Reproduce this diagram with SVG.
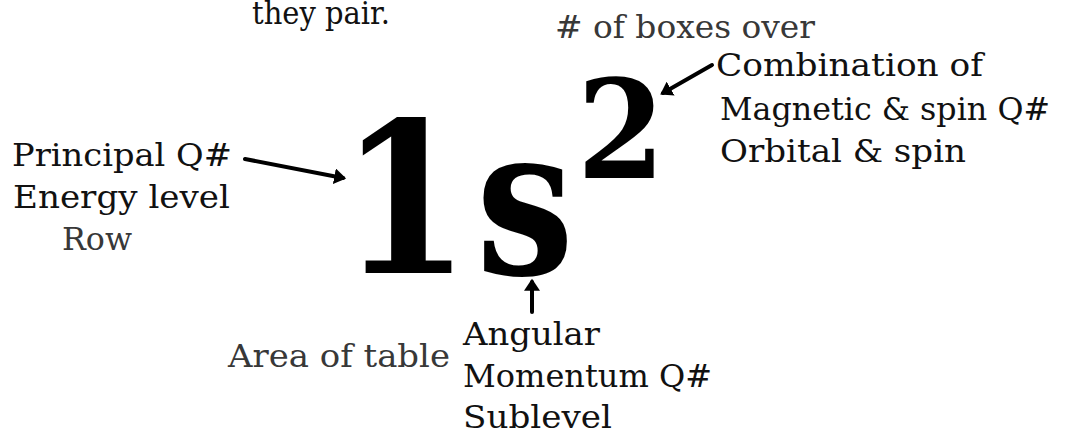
<svg xmlns="http://www.w3.org/2000/svg" width="1070" height="434" viewBox="0 0 1070 434">
<defs>
<style>
.t{font-size:31px;fill:#111}
.g{fill:#383838}
.big{font-weight:bold;fill:#000}
.c{stroke:#000;stroke-width:4;fill:none;stroke-linecap:round}
</style>
<marker id="ah" markerWidth="4" markerHeight="4" refX="2.2" refY="2" orient="auto" markerUnits="strokeWidth">
<path d="M0,0 L3,2 L0,4 Z" fill="#000"/>
</marker>
</defs>
<rect width="1070" height="434" fill="#fff"/>
<g font-family="DejaVu Serif, Liberation Serif, serif">
<g id="note-pair"><text class="t" x="252" y="24" textLength="138" lengthAdjust="spacingAndGlyphs">they pair.</text></g>
<g id="symbol">
<text class="big" x="340" y="273" font-size="209" textLength="130" lengthAdjust="spacingAndGlyphs">1</text>
<text class="big" x="476" y="274" font-size="208" textLength="98" lengthAdjust="spacingAndGlyphs">s</text>
<text class="big" x="577" y="178" font-size="137" textLength="88" lengthAdjust="spacingAndGlyphs">2</text>
</g>
<g id="principal">
<text class="t" x="12" y="166" textLength="220" lengthAdjust="spacingAndGlyphs">Principal Q#</text>
<text class="t" x="13" y="208" textLength="217" lengthAdjust="spacingAndGlyphs">Energy level</text>
<text class="t g" x="62" y="250" textLength="70" lengthAdjust="spacingAndGlyphs">Row</text>
</g>
<g id="exponent">
<text class="t g" x="555" y="38" textLength="260" lengthAdjust="spacingAndGlyphs"># of boxes over</text>
<text class="t" x="716" y="76" textLength="267" lengthAdjust="spacingAndGlyphs">Combination of</text>
<text class="t" x="720" y="120" textLength="330" lengthAdjust="spacingAndGlyphs">Magnetic &amp; spin Q#</text>
<text class="t" x="720" y="162" textLength="246" lengthAdjust="spacingAndGlyphs">Orbital &amp; spin</text>
</g>
<g id="angular">
<text class="t g" x="228" y="367" textLength="222" lengthAdjust="spacingAndGlyphs">Area of table</text>
<text class="t" x="463" y="345" textLength="137" lengthAdjust="spacingAndGlyphs">Angular</text>
<text class="t" x="463" y="387" textLength="249" lengthAdjust="spacingAndGlyphs">Momentum Q#</text>
<text class="t" x="463" y="428" textLength="149" lengthAdjust="spacingAndGlyphs">Sublevel</text>
</g>
</g>
<g id="connectors">
<line class="c" x1="245" y1="159" x2="343" y2="178" marker-end="url(#ah)"/>
<line class="c" x1="712" y1="65" x2="663" y2="93" marker-end="url(#ah)"/>
<line class="c" x1="532" y1="312" x2="532" y2="282" marker-end="url(#ah)"/>
</g>
</svg>
